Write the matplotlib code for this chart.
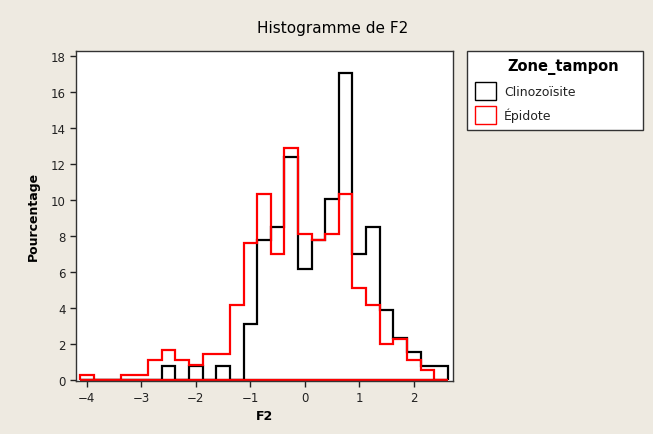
import numpy as np
import matplotlib
matplotlib.use("Agg")
from matplotlib import pyplot as plt
from matplotlib.patches import Rectangle

# bin centres go from -4.0 to 2.5 in steps of 0.25
bin_edges = np.arange(-4.125, 2.626, 0.25)

# percentages
clino = [0, 0, 0, 0, 0, 0, 0.78, 0, 0.78, 0, 0.78, 0, 3.1, 7.76,
         8.53, 12.4, 6.2, 7.76, 10.08, 17.05, 6.98, 8.53, 3.88, 2.33,
         1.55, 0.78, 0.78]
epidote = [0.28, 0, 0, 0.28, 0.28, 1.11, 1.67, 1.11, 0.84, 1.45, 1.45,
           4.2, 7.6, 10.35, 6.98, 12.9, 8.1, 7.8, 8.1, 10.35, 5.1, 4.2,
           1.98, 2.3, 1.1, 0.57, 0]

bg = '#eeeae1'
W, H = 653, 435

fig = plt.figure(figsize=(W / 100, H / 100), dpi=100, facecolor=bg)
ax = fig.add_axes([76 / W, 1 - 381.5 / H, (453 - 76) / W, (381.5 - 52) / H])
ax.set_facecolor('white')

for vals, col in [(clino, 'black'), (epidote, '#ff0000')]:
    ax.stairs(vals, bin_edges, color=col, lw=1.6, baseline=0)
    ax.hlines(0, bin_edges[0], bin_edges[-1], color=col, lw=1.6)

ax.set_xlim(-4.2, 2.72)
ax.set_ylim(-0.02, 18.28)
ax.set_xticks(range(-4, 3))
ax.set_yticks(range(0, 19, 2))
ax.tick_params(axis='both', direction='out', length=4, width=1,
               labelsize=8.5, colors='#222222')
for s in ax.spines.values():
    s.set_color('#333333')
    s.set_linewidth(1)

ax.set_xlabel("F2", fontsize=9, fontweight='bold', labelpad=4)
ax.set_ylabel("Pourcentage", fontsize=9, fontweight='bold', labelpad=8)
fig.text(333 / W, 1 - 28 / H, "Histogramme de F2", fontsize=11,
         ha='center', va='center')

# legend drawn by hand to match the box on the right
def fx(x):
    return x / W

def fy(y):
    return 1 - y / H

fig.add_artist(Rectangle((fx(467), fy(131)), fx(643) - fx(467), fy(52) - fy(131),
                         transform=fig.transFigure, facecolor='white',
                         edgecolor='#333333', lw=1))
fig.text(fx(563), fy(67), "Zone_tampon", fontsize=10.5, fontweight='bold',
         ha='center', va='center')
labels = ["Clinozoïsite", "Épidote"]
colors = ['black', '#ff0000']
for i, (lab, col) in enumerate(zip(labels, colors)):
    y0 = 83 + i * 24
    fig.add_artist(Rectangle((fx(475), fy(y0 + 18)), fx(496) - fx(475), fy(y0) - fy(y0 + 18),
                             transform=fig.transFigure, facecolor='white',
                             edgecolor=col, lw=1))
    fig.text(fx(504), fy(y0 + 9), lab, fontsize=9, ha='left', va='center',
             color='#222222')

fig.savefig("out.png", dpi=100, facecolor=bg)
